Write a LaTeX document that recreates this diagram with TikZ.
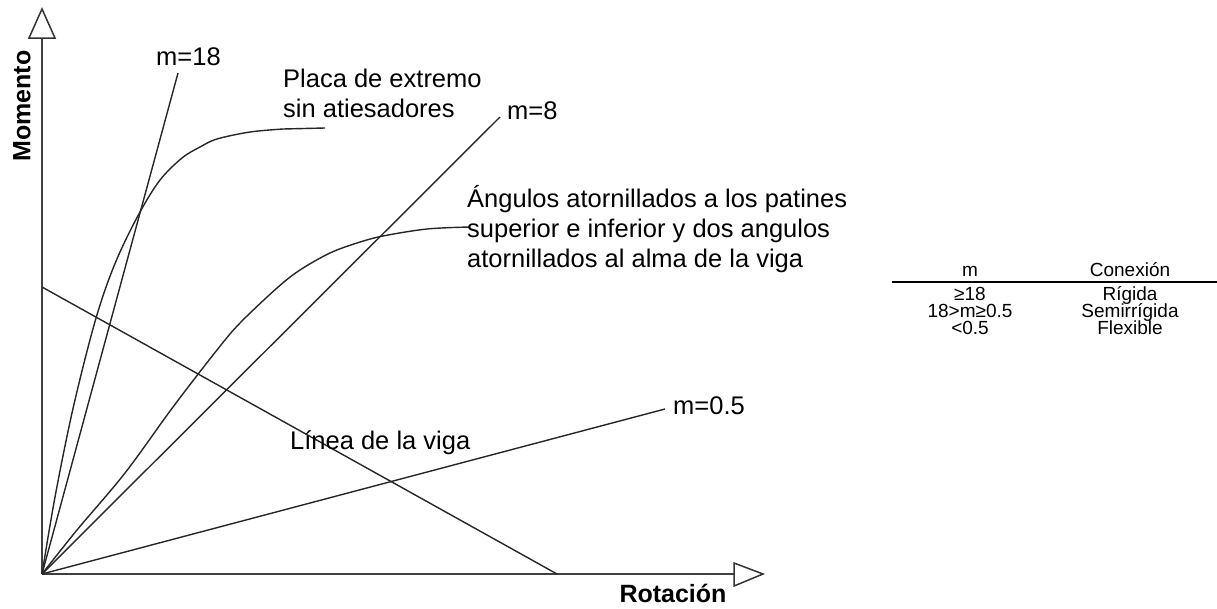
\documentclass[tikz,border=0pt]{standalone}
\usepackage{fontspec}
\setmainfont{Liberation Sans}
\begin{document}
\begin{tikzpicture}[x=1pt,y=-1pt,
  curve/.style={line width=1.4pt,black!85,line join=round},
  axis/.style={line width=2pt,black!75},
  tip/.style={line width=1.5pt,black!80,fill=white,line join=miter},
  lbl/.style={inner sep=0pt,anchor=base west,font=\fontsize{25.5}{30}\selectfont},
  ttl/.style={inner sep=0pt,font=\fontsize{25}{30}\selectfont\bfseries},
  tab/.style={inner sep=0pt,anchor=base,text height=13pt,text depth=2pt,font=\fontsize{19}{21}\selectfont}]
\useasboundingbox (0,0) rectangle (1217,608);
% origin and ends
\coordinate (O) at (42,574);
\coordinate (ytop) at (42,38);
\coordinate (xend) at (734,574);
% axes
\draw[axis] (O) -- (ytop);
\draw[axis] (O) -- (xend);
\draw[tip] (29,38) -- (55,38) -- (42,9) -- cycle;
\draw[tip] (734,563) -- (734,586) -- (763,574) -- cycle;
\node[ttl,rotate=90] (mom) at (22,106) {Momento};
\node[ttl] (rot) at (673,593) {Rotación};
% straight lines
\coordinate (m18) at (178,73);
\coordinate (m8) at (500,117);
\coordinate (m05) at (665,409);
\coordinate (v1) at (42,287);
\coordinate (v2) at (557,574);
\draw[curve] (O) -- (m18);
\draw[curve] (O) -- (m8);
\draw[curve] (O) -- (m05);
\draw[curve] (v1) -- (v2);
% curves
\draw[curve] plot[smooth,tension=0.55] coordinates {(42,574) (55,497) (72,413) (91,336) (105,290) (120,252) (140,212) (160,180) (182,158) (200,147) (217,139) (250,132) (283,129)} -- (325,128);
\draw[curve] plot[smooth,tension=0.55] coordinates {(42,574) (77,530) (125,473) (173,407) (217,350) (240,323) (277,288) (300,270) (330,253) (357,243) (383,236) (427,229) (470,227)};
% labels
\node[lbl] (l18) at (156,65) {m=18};
\node[lbl] (l8) at (507,119) {m=8};
\node[lbl] (l05) at (673,414) {m=0.5};
\node[lbl] (lviga) at (290,449) {Línea de la viga};
\node[lbl] (placa1) at (283,87) {Placa de extremo};
\node[lbl] (placa2) at (283,117) {sin atiesadores};
\node[lbl] (ang1) at (467,207) {Ángulos atornillados a los patines};
\node[lbl] (ang2) at (467,237) {superior e inferior y dos angulos};
\node[lbl] (ang3) at (467,267) {atornillados al alma de la viga};
% table
\coordinate (r1) at (892,282);
\coordinate (r2) at (1217,282);
\draw[line width=2pt] (r1) -- (r2);
\node[tab] (h1) at (970,276) {m};
\node[tab] (h2) at (1130,276) {Conexión};
\node[tab] (a1) at (970,300) {≥18};
\node[tab] (b1) at (1130,300) {Rígida};
\node[tab] (a2) at (970,317) {18>m≥0.5};
\node[tab] (b2) at (1130,317) {Semirrígida};
\node[tab] (a3) at (970,334) {<0.5};
\node[tab] (b3) at (1130,334) {Flexible};
\end{tikzpicture}
\end{document}
